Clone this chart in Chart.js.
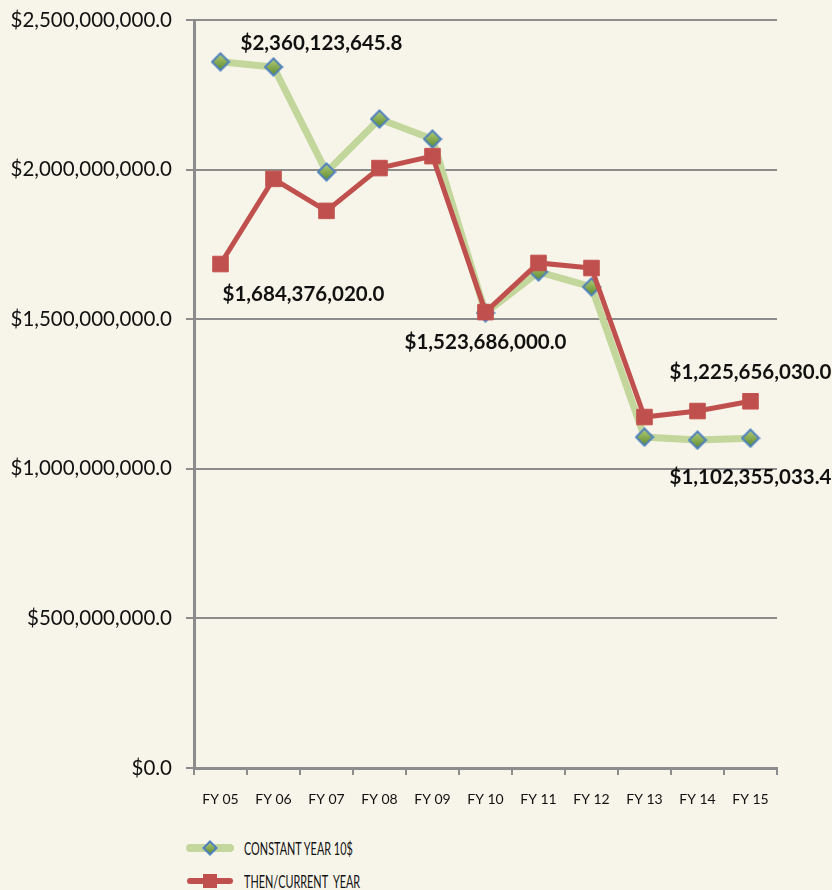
<!DOCTYPE html>
<html>
<head>
<meta charset="utf-8">
<script src="https://cdn.jsdelivr.net/npm/chart.js@4.4.1/dist/chart.umd.min.js"></script>
<style>
  html, body { margin: 0; padding: 0; background: #F7F5E9; }
  #wrap { position: relative; width: 832px; height: 890px; background: #F7F5E9; overflow: hidden; }
  #c { position: absolute; left: 0; top: 0; }
  .leg { position: absolute; left: 186px; height: 20px; display: flex; align-items: center; font-family: Lato, "Open Sans", sans-serif; font-size: 17px; color: #111; }
  .leg canvas { margin-right: 10px; }
  .leg span { display: inline-block; transform: scaleX(0.64); transform-origin: left center; white-space: nowrap; }
</style>
</head>
<body>
<div id="wrap">
  <canvas id="c" width="832" height="820"></canvas>
  <div class="leg" style="top:838px"><canvas id="l1" width="48" height="20"></canvas><span>CONSTANT YEAR 10$</span></div>
  <div class="leg" style="top:871px"><canvas id="l2" width="48" height="20"></canvas><span>THEN/CURRENT&nbsp; YEAR</span></div>
</div>
<script>
const categories = ["FY 05","FY 06","FY 07","FY 08","FY 09","FY 10","FY 11","FY 12","FY 13","FY 14","FY 15"];
const constantYear10 = [2360123645.8, 2343000000, 1992000000, 2169000000, 2102000000, 1521000000, 1658000000, 1608000000, 1106000000, 1096000000, 1102355033.4];
const thenCurrentYear = [1684376020.0, 1969000000, 1862000000, 2005000000, 2045000000, 1523686000.0, 1688000000, 1671000000, 1173000000, 1193000000, 1225656030.0];
const yTicks = [0, 500000000, 1000000000, 1500000000, 2000000000, 2500000000];
const seriesNames = ["CONSTANT YEAR 10$", "THEN/CURRENT  YEAR"];
// annotated points: [datasetIndex, pointIndex]
const annotated = [[0,0],[1,0],[1,5],[1,10],[0,10]];

function money(v){
  return "$" + Number(v).toLocaleString("en-US",{minimumFractionDigits:1, maximumFractionDigits:1});
}

const GREEN_LINE = "#C3D69B", BLUE = "#4F81BD", RED = "#C0504D", GRID = "#8C8C8C";

const labelOffsets = [[101,-18],[83,30],[0,30],[0,-29],[0,39]];

const labelPlugin = {
  id: "valueLabels",
  afterDatasetsDraw(chart){
    const ctx = chart.ctx;
    ctx.save();
    ctx.font = "bold 20.5px Lato, 'Open Sans', sans-serif";
    ctx.fillStyle = "#111";
    ctx.textAlign = "center";
    ctx.textBaseline = "middle";
    annotated.forEach(([d,i],k)=>{
      const el = chart.getDatasetMeta(d).data[i];
      const v = chart.data.datasets[d].data[i];
      ctx.fillText(money(v), el.x + labelOffsets[k][0], el.y + labelOffsets[k][1]);
    });
    ctx.restore();
  }
};

// diamond marker image with gradient fill
function makeDiamond(size){
  const c = document.createElement("canvas");
  c.width = size; c.height = size;
  const x = c.getContext("2d"), h = size/2, r = h - 1.5;
  const g = x.createLinearGradient(0, h - r, 0, h + r);
  g.addColorStop(0, "#B5CD7A"); g.addColorStop(1, "#5C8A2C");
  x.fillStyle = g; x.strokeStyle = BLUE; x.lineWidth = 2; x.lineJoin = "miter";
  x.beginPath(); x.moveTo(h, h - r); x.lineTo(h + r, h); x.lineTo(h, h + r); x.lineTo(h - r, h); x.closePath();
  x.fill(); x.stroke();
  return c;
}
const diamond = makeDiamond(20);
const diamondSmall = makeDiamond(16);

new Chart(document.getElementById("c"), {
  type: "line",
  data: {
    labels: categories,
    datasets: [
      { label: seriesNames[0], data: constantYear10, borderColor: GREEN_LINE, borderWidth: 7,
        pointStyle: diamond, pointRadius: 9,
        tension: 0, order: 2 },
      { label: seriesNames[1], data: thenCurrentYear, borderColor: RED, borderWidth: 5,
        pointStyle: "rect", pointRadius: 11, pointBackgroundColor: RED, pointBorderColor: "#C4524F", pointBorderWidth: 1,
        tension: 0, order: 1 }
    ]
  },
  options: {
    responsive: false,
    animation: false,
    layout: { padding: { top: 20, right: 55, left: 0, bottom: 0 } },
    plugins: { legend: { display: false }, tooltip: { enabled: false } },
    scales: {
      x: {
        offset: true,
        grid: { display: true, offset: true, drawOnChartArea: false, drawTicks: true, tickLength: 7, color: GRID, lineWidth: 2 },
        border: { display: true, color: GRID, width: 3 },
        ticks: { color: "#111", font: { family: "Lato, 'Open Sans', sans-serif", size: 14 }, padding: 16, maxRotation: 0, autoSkip: false },
        afterFit(s){ s.height = 52; }
      },
      y: {
        min: 0, max: 2500000000,
        afterBuildTicks(s){ s.ticks = yTicks.map(v=>({value:v})); },
        grid: { color: GRID, lineWidth: 2, drawTicks: true, tickLength: 8 },
        border: { display: true, color: GRID, width: 3 },
        ticks: { color: "#111", font: { family: "Lato, 'Open Sans', sans-serif", size: 20.5 }, padding: 14,
                 callback: v => money(v) },
        afterFit(s){ s.width = 194; s.paddingTop = 0; s.paddingBottom = 0; }
      }
    }
  },
  plugins: [labelPlugin]
});

function legendIcon(id, lineColor, lineW, kind){
  const c = document.getElementById(id), x = c.getContext("2d");
  x.strokeStyle = lineColor; x.lineWidth = lineW; x.lineCap = "round";
  x.beginPath(); x.moveTo(4,10); x.lineTo(44,10); x.stroke();
  if (kind === "diamond"){
    x.drawImage(diamondSmall, 16, 2);
  } else {
    x.fillStyle = RED; x.fillRect(17,3,14,14);
  }
}
legendIcon("l1", GREEN_LINE, 8, "diamond");
legendIcon("l2", RED, 6, "square");
</script>
</body>
</html>
